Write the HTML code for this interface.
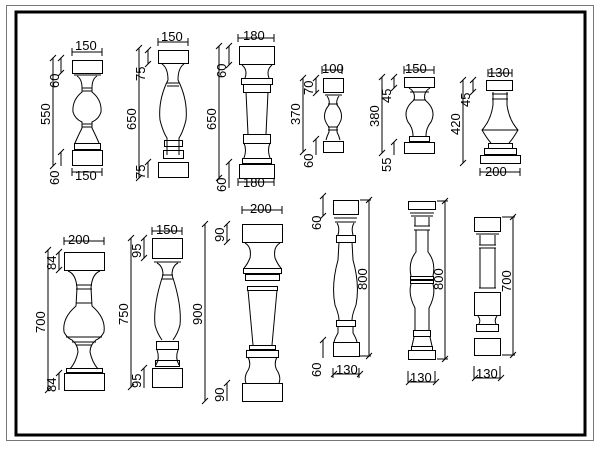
<!DOCTYPE html>
<html><head><meta charset="utf-8"><style>
html,body{margin:0;padding:0;background:#fff}
svg{display:block}
text{font-family:"Liberation Sans",sans-serif;font-size:13px;fill:#000}
</style></head><body>
<svg width="600" height="450" viewBox="0 0 600 450" xmlns="http://www.w3.org/2000/svg">
<rect x="0" y="0" width="600" height="450" fill="#fff"/>
<rect x="6.5" y="5.5" width="587" height="435" fill="none" stroke="#777" stroke-width="1"/>
<rect x="16" y="12" width="569" height="423" fill="none" stroke="#000" stroke-width="3"/>
<g fill="none" stroke="#000" stroke-width="1">
<!-- B1 -->
<rect x="72.5" y="60.5" width="30" height="13"/>
<line x1="74" y1="75" x2="101" y2="75"/>
<path d="M77,76 Q82,79 82,88 L82,92 Q72,100 73,112 Q75,119 82,122 L82,128 Q78,136 75,143 M97,76 Q92,79 92,88 L92,92 Q102,100 101,112 Q99,119 92,122 L92,128 Q96,136 99,143"/>
<line x1="82" y1="88" x2="92" y2="88"/><line x1="82" y1="91" x2="92" y2="91"/>
<line x1="82" y1="124" x2="92" y2="124"/><line x1="82" y1="127" x2="92" y2="127"/>
<rect x="74.5" y="143.5" width="26" height="6"/>
<rect x="72.5" y="150.5" width="30" height="15"/>
<!-- B2 -->
<rect x="158.5" y="50.5" width="30" height="13"/>
<path d="M162,64 Q168,68 168,80 Q158,100 160,120 Q163,132 167,138 L167,155 M184,64 Q178,68 178,80 Q188,100 186,120 Q183,132 179,138 L179,155"/>
<line x1="167" y1="83" x2="179" y2="83"/><line x1="167" y1="86" x2="179" y2="86"/>
<rect x="164.5" y="140.5" width="18" height="6"/><rect x="163.5" y="150.5" width="20" height="8"/>
<rect x="158.5" y="162.5" width="30" height="15"/>
<!-- B3 -->
<rect x="239.5" y="46.5" width="35" height="18"/>
<path d="M242,65 Q248,70 245,78 M272,65 Q266,70 269,78 M246,92 L248,134 M268,92 L266,134 M244,143 Q247,150 244,158 M270,143 Q267,150 270,158"/>
<rect x="241.5" y="78.5" width="31" height="6"/><rect x="243.5" y="84.5" width="27" height="8"/>
<rect x="243.5" y="134.5" width="27" height="9"/>
<rect x="242.5" y="158.5" width="29" height="5"/>
<rect x="239.5" y="164.5" width="35" height="14"/>
<!-- B4 -->
<rect x="323.5" y="78.5" width="20" height="14"/>
<line x1="325" y1="95" x2="342" y2="95"/>
<path d="M327,96 Q330,100 329,105 Q323,112 325,120 Q327,125 329,127 L329,132 Q327,136 326,140 M339,96 Q336,100 337,105 Q343,112 341,120 Q339,125 337,127 L337,132 Q339,136 340,140"/>
<line x1="328" y1="104" x2="338" y2="104"/><line x1="328" y1="127" x2="338" y2="127"/><line x1="328" y1="130" x2="338" y2="130"/>
<rect x="323.5" y="141.5" width="20" height="11"/>
<!-- B5 -->
<rect x="404.5" y="77.5" width="30" height="10"/>
<path d="M409,88 Q416,92 414,100 Q402,110 408,122 Q413,128 413,136 M430,88 Q423,92 425,100 Q437,110 431,122 Q426,128 426,136"/>
<line x1="410" y1="92" x2="429" y2="92"/><line x1="413" y1="100" x2="426" y2="100"/>
<rect x="409.5" y="136.5" width="20" height="5"/>
<rect x="404.5" y="142.5" width="30" height="11"/>
<!-- B6 -->
<rect x="486.5" y="80.5" width="26" height="10"/>
<path d="M493,92 L493,105 Q491,120 482,130 Q488,140 491,143 M507,92 L507,105 Q509,120 518,130 Q512,140 509,143"/>
<line x1="492" y1="94" x2="508" y2="94"/><line x1="492" y1="99" x2="508" y2="99"/>
<line x1="482" y1="130" x2="518" y2="130"/>
<rect x="488.5" y="143.5" width="24" height="5"/><rect x="484.5" y="148.5" width="32" height="6"/>
<rect x="480.5" y="155.5" width="40" height="8"/>
<!-- B7 -->
<rect x="64.5" y="252.5" width="40" height="18"/>
<path d="M68,271 Q76,274 77,288 L76,306 Q62,318 64,332 Q67,338 72,340 Q78,345 78,352 Q76,362 70,369 M100,271 Q92,274 91,288 L92,306 Q106,318 104,332 Q101,338 96,340 Q90,345 90,352 Q92,362 98,369"/>
<line x1="76" y1="285" x2="92" y2="285"/><line x1="76" y1="289" x2="92" y2="289"/>
<line x1="76" y1="303" x2="92" y2="303"/>
<line x1="66" y1="337" x2="102" y2="337"/><line x1="72" y1="342" x2="96" y2="342"/><line x1="76" y1="345" x2="92" y2="345"/>
<rect x="66.5" y="368.5" width="36" height="4"/>
<rect x="64.5" y="373.5" width="40" height="17"/>
<!-- B8 -->
<rect x="152.5" y="238.5" width="30" height="20"/>
<line x1="154" y1="262" x2="181" y2="262"/>
<path d="M157,263 Q163,266 163,275 Q153,305 155,325 Q157,333 162,340 M178,263 Q172,266 172,275 Q182,305 180,325 Q178,333 173,340 M157,350 Q160,358 156,365 M178,350 Q175,358 179,365"/>
<line x1="162" y1="275" x2="173" y2="275"/><line x1="162" y1="279" x2="173" y2="279"/>
<rect x="156.5" y="341.5" width="22" height="8"/><rect x="155.5" y="360.5" width="24" height="6"/>
<rect x="152.5" y="368.5" width="30" height="19"/>
<!-- B9 -->
<rect x="242.5" y="224.5" width="40" height="18"/>
<path d="M245,243 Q252,247 250,258 Q247,265 244,268 M280,243 Q273,247 275,258 Q278,265 281,268 M248,290 L253,345 M277,290 L272,345 M248,357 Q252,365 247,372 Q244,378 246,383 M277,357 Q273,365 278,372 Q281,378 279,383"/>
<rect x="243.5" y="268.5" width="38" height="5"/><rect x="245.5" y="274.5" width="34" height="6"/><rect x="247.5" y="286.5" width="30" height="4"/>
<rect x="249.5" y="345.5" width="26" height="4"/><rect x="246.5" y="350.5" width="32" height="7"/>
<rect x="242.5" y="383.5" width="40" height="18"/>
<!-- B10 -->
<rect x="333.5" y="200.5" width="25" height="14"/>
<line x1="334" y1="218" x2="357" y2="218"/><line x1="335" y1="222" x2="356" y2="222"/>
<path d="M337,223 Q340,228 338,235 M354,223 Q351,228 353,235 M339,242 L338,260 Q331,285 335,305 Q339,315 339,320 M352,242 L353,260 Q360,285 356,305 Q352,315 352,320 M338,326 L338,333 Q335,338 334,342 M353,326 L353,333 Q356,338 357,342"/>
<rect x="336.5" y="235.5" width="19" height="7"/><rect x="336.5" y="320.5" width="19" height="6"/>
<rect x="333.5" y="342.5" width="26" height="14"/>
<!-- B11 -->
<rect x="408.5" y="201.5" width="27" height="8"/>
<line x1="410" y1="213" x2="434" y2="213"/><line x1="411" y1="216" x2="433" y2="216"/>
<path d="M415,217 L415,226 M429,217 L429,226 M416,230 L416,252 Q408,262 411,276 M428,230 L428,252 Q436,262 433,276 M411,284 Q408,295 415,308 L415,330 M433,284 Q436,295 429,308 L429,330 M414,337 L412,346 M430,337 L432,346"/>
<line x1="414" y1="226" x2="430" y2="226"/><line x1="414" y1="230" x2="430" y2="230"/>
<rect x="410.5" y="276.5" width="23" height="3"/><rect x="410.5" y="280.5" width="23" height="3"/>
<rect x="413.5" y="330.5" width="17" height="6"/>
<rect x="411.5" y="346.5" width="21" height="4"/>
<rect x="408.5" y="350.5" width="27" height="9"/>
<!-- B12 -->
<rect x="474.5" y="217.5" width="26" height="14"/>
<line x1="476" y1="234" x2="499" y2="234"/>
<path d="M480,235 L480,245 M495,235 L495,245 M480,248 L480,288 M495,248 L495,288 M478,316 Q481,320 479,324 M497,316 Q494,320 496,324"/>
<line x1="479" y1="245" x2="496" y2="245"/><line x1="479" y1="248" x2="496" y2="248"/>
<line x1="479" y1="288" x2="496" y2="288"/>
<rect x="474.5" y="292.5" width="26" height="23"/>
<rect x="476.5" y="324.5" width="22" height="7"/>
<rect x="474.5" y="338.5" width="26" height="17"/>
</g>
<!-- dimension lines -->
<g stroke="#000" stroke-width="1" fill="none">
<!-- B1 -->
<path d="M72,52 L102,52 M72,48 L72,56 M102,48 L102,56 M72,172 L102,172 M72,168 L72,176 M102,168 L102,176"/>
<path d="M53,58 L53,166 M50,61 L56,55 M50,169 L56,163 M61,58 L61,73 M58,61 L64,55 M58,76 L64,70 M61,152 L61,166 M58,155 L64,149"/>
<!-- B2 -->
<path d="M158,42 L188,42 M158,38 L158,46 M188,38 L188,46"/>
<path d="M139,48 L139,178 M136,51 L142,45 M136,181 L142,175 M148,50 L148,64 M145,53 L151,47 M145,67 L151,61 M148,162 L148,178 M145,165 L151,159"/>
<!-- B3 -->
<path d="M238,38 L274,38 M238,34 L238,42 M274,34 L274,42 M238,182 L274,182 M238,178 L238,186 M274,178 L274,186"/>
<path d="M219,46 L219,178 M216,49 L222,43 M216,181 L222,175 M229,46 L229,65 M226,49 L232,43 M226,68 L232,62 M229,162 L229,188 M226,165 L232,159"/>
<!-- B4 -->
<path d="M322,70 L342,70 M322,66 L322,74 M342,66 L342,74"/>
<path d="M303,78 L303,152 M300,81 L306,75 M300,155 L306,149 M316,78 L316,93 M313,81 L319,75 M313,96 L319,90 M316,139 L316,155 M313,142 L319,136"/>
<!-- B5 -->
<path d="M404,70 L434,70 M404,66 L404,74 M434,66 L434,74"/>
<path d="M382,77 L382,153 M379,80 L385,74 M379,156 L385,150 M394,77 L394,88 M391,80 L397,74 M391,91 L397,85 M394,142 L394,155 M391,145 L397,139"/>
<!-- B6 -->
<path d="M488,73 L512,73 M488,69 L488,77 M512,69 L512,77 M480,172 L520,172 M480,168 L480,176 M520,168 L520,176"/>
<path d="M463,80 L463,163 M460,83 L466,77 M460,166 L466,160 M473,80 L473,92 M470,83 L476,77 M470,95 L476,89"/>
<!-- B7 -->
<path d="M64,241 L104,241 M64,237 L64,245 M104,237 L104,245"/>
<path d="M48,250 L48,390 M45,253 L51,247 M45,393 L51,387 M59,252 L59,270 M56,255 L62,249 M56,273 L62,267 M59,373 L59,390 M56,376 L62,370"/>
<!-- B8 -->
<path d="M152,231 L182,231 M152,227 L152,235 M182,227 L182,235"/>
<path d="M131,238 L131,387 M128,241 L134,235 M128,390 L134,384 M144,238 L144,258 M141,241 L147,235 M141,261 L147,255 M144,368 L144,388 M141,371 L147,365"/>
<!-- B9 -->
<path d="M242,210 L282,210 M242,206 L242,214 M282,206 L282,214"/>
<path d="M205,224 L205,401 M202,227 L208,221 M202,404 L208,398 M227,224 L227,242 M224,227 L230,221 M224,245 L230,239 M227,383 L227,401 M224,386 L230,380"/>
<!-- B10 -->
<path d="M360,200 L371,200 M360,356 L371,356 M369,200 L369,356 M366,203 L372,197 M366,359 L372,353 M323,196 L323,216 M320,199 L326,193 M320,219 L326,213 M323,340 L323,358 M320,343 L326,337"/>
<path d="M333,374 L359,374 M331,377 L337,371 M357,377 L363,371 M333,368 L333,378 M359,368 L359,378"/>
<!-- B11 -->
<path d="M437,201 L448,201 M437,359 L448,359 M445,201 L445,359 M442,204 L448,198 M442,362 L448,356"/>
<path d="M408,382 L435,382 M406,385 L412,379 M433,385 L439,379 M408,371 L408,383 M435,371 L435,383"/>
<!-- B12 -->
<path d="M502,217 L515,217 M502,355 L515,355 M513,217 L513,355 M510,220 L516,214 M510,358 L516,352"/>
<path d="M474,378 L500,378 M472,381 L478,375 M498,381 L504,375 M474,366 L474,379 M500,366 L500,379"/>
</g>
<!-- labels -->
<text x="75" y="50">150</text><text x="75" y="180">150</text>
<text x="161" y="41">150</text>
<text x="243" y="40">180</text><text x="243" y="187">180</text>
<text x="322" y="73">100</text>
<text x="405" y="73">150</text>
<text x="488" y="77">130</text><text x="485" y="176">200</text>
<text x="68" y="244">200</text>
<text x="156" y="234">150</text>
<text x="250" y="213">200</text>
<text x="336" y="374">130</text>
<text x="410" y="382">130</text>
<text x="476" y="378">130</text>
<g>
<text transform="translate(50,125) rotate(-90)">550</text>
<text transform="translate(59,88) rotate(-90)">60</text>
<text transform="translate(59,185) rotate(-90)">60</text>
<text transform="translate(136,130) rotate(-90)">650</text>
<text transform="translate(145,81) rotate(-90)">75</text>
<text transform="translate(145,179) rotate(-90)">75</text>
<text transform="translate(216,130) rotate(-90)">650</text>
<text transform="translate(226,78) rotate(-90)">60</text>
<text transform="translate(226,192) rotate(-90)">60</text>
<text transform="translate(300,125) rotate(-90)">370</text>
<text transform="translate(313,95) rotate(-90)">70</text>
<text transform="translate(313,168) rotate(-90)">60</text>
<text transform="translate(379,127) rotate(-90)">380</text>
<text transform="translate(391,103) rotate(-90)">45</text>
<text transform="translate(391,172) rotate(-90)">55</text>
<text transform="translate(460,135) rotate(-90)">420</text>
<text transform="translate(470,107) rotate(-90)">45</text>
<text transform="translate(45,333) rotate(-90)">700</text>
<text transform="translate(56,270) rotate(-90)">84</text>
<text transform="translate(56,392) rotate(-90)">84</text>
<text transform="translate(128,325) rotate(-90)">750</text>
<text transform="translate(141,258) rotate(-90)">95</text>
<text transform="translate(141,388) rotate(-90)">95</text>
<text transform="translate(202,325) rotate(-90)">900</text>
<text transform="translate(224,242) rotate(-90)">90</text>
<text transform="translate(224,402) rotate(-90)">90</text>
<text transform="translate(321,230) rotate(-90)">60</text>
<text transform="translate(321,377) rotate(-90)">60</text>
<text transform="translate(367,290) rotate(-90)">800</text>
<text transform="translate(443,290) rotate(-90)">800</text>
<text transform="translate(511,292) rotate(-90)">700</text>
</g>
</svg>
</body></html>
